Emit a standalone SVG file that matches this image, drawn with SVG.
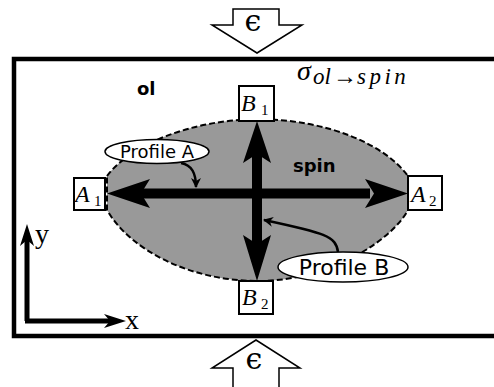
<svg xmlns="http://www.w3.org/2000/svg" width="494" height="387" viewBox="0 0 494 387">
<defs>
<style>
.blk{fill:#000;stroke:none}
.box{fill:#fff;stroke:#000;stroke-width:2}
.math{font-family:"Liberation Serif","DejaVu Serif",serif;font-style:italic;fill:#000}
.rm{font-family:"Liberation Serif","DejaVu Serif",serif;fill:#000}
.eps{font-family:"DejaVu Serif",serif;fill:#000}
.sans{font-family:"DejaVu Sans","Liberation Sans",sans-serif;fill:#000}
.bold{font-family:"DejaVu Sans","Liberation Sans",sans-serif;font-weight:bold;fill:#000}
.conn{fill:none;stroke:#000;stroke-width:2.5}
.block{fill:#fff;stroke:#000;stroke-width:1.5}
</style>
<marker id="sm" viewBox="0 0 10 10" refX="9" refY="5" markerWidth="4" markerHeight="4" orient="auto" markerUnits="strokeWidth">
<path d="M0,0 L10,5 L0,10 L3,5 Z" fill="#000"/>
</marker>
</defs>
<rect width="494" height="387" fill="#fff"/>

<g id="strain-top">
<polygon class="block" points="233,9 279,9 279,25 302,25 257,53 212,25 233,25"/>
<text class="eps" x="253" y="31" font-size="30" text-anchor="middle">ϵ</text>
</g>
<g id="strain-bottom">
<polygon class="block" points="233,392 279,392 279,368 300,368 256,340 212,368 233,368"/>
<text class="eps" x="254" y="369" font-size="30" text-anchor="middle">ϵ</text>
</g>

<g id="ol">
<rect x="14" y="59" width="500" height="277" fill="none" stroke="#000" stroke-width="4.5"/>
<text class="bold" x="137" y="95" font-size="18">ol</text>
<text class="math" x="297" y="80" font-size="28">σ<tspan x="313" y="84" font-size="23">ol</tspan><tspan x="333" y="84" font-style="normal" font-size="24">→</tspan><tspan x="357" y="84" font-size="23" letter-spacing="3.5">spin</tspan></text>
</g>

<g id="spin">
<path d="M 107 176 C 130 145, 190 120, 258 119 C 330 120, 385 145, 408 176 L 408 210 C 392 240, 330 281, 258 281 C 190 281, 130 250, 107 210 Z" fill="#999" stroke="#000" stroke-width="2" stroke-dasharray="6,3"/>
<text class="bold" x="293" y="172" font-size="18">spin</text>
</g>

<g id="connectors">
<rect class="blk" x="140" y="188.5" width="230" height="10"/>
<path class="blk" d="M107,193.5 L150,179 L141,193.5 L150,208 Z"/>
<path class="blk" d="M408,193.5 L365,179 L374,193.5 L365,208 Z"/>
<rect class="blk" x="252" y="150" width="10" height="100"/>
<path class="blk" d="M257,121 L243,163 L257,154 L271,163 Z"/>
<path class="blk" d="M257,281 L243,235 L257,244 L271,235 Z"/>
<path class="conn" d="M 181 163 C 192 165, 196 173, 196 187" marker-end="url(#sm)"/>
<path class="conn" d="M 338 252 C 336 236, 325 233, 264 220" marker-end="url(#sm)"/>
<path d="M27,321 L27,238 M25,321 L112,321" fill="none" stroke="#000" stroke-width="5"/>
<path class="blk" d="M27,224 L34,246 L27,240 L20,246 Z"/>
<path class="blk" d="M126,321 L104,328 L110,321 L104,314 Z"/>
</g>

<g id="axes-labels">
<text class="rm" x="35" y="243" font-size="28">y</text>
<text class="rm" x="125" y="329" font-size="28">x</text>
</g>

<g id="A1">
<rect class="box" x="74" y="178" width="31" height="32"/>
<text class="math" x="75" y="202" font-size="24">A</text>
<text class="rm" x="94" y="206" font-size="15">1</text>
</g>
<g id="A2">
<rect class="box" x="408" y="176" width="34" height="34"/>
<text class="math" x="411" y="202" font-size="24">A</text>
<text class="rm" x="429" y="206" font-size="15">2</text>
</g>
<g id="B1">
<rect class="box" x="239" y="86" width="35" height="35"/>
<text class="math" x="241" y="111" font-size="24">B</text>
<text class="rm" x="261" y="115" font-size="15">1</text>
</g>
<g id="B2">
<rect class="box" x="239" y="281" width="34" height="33"/>
<text class="math" x="242" y="305" font-size="24">B</text>
<text class="rm" x="261" y="309" font-size="15">2</text>
</g>

<g id="profileA">
<ellipse cx="157" cy="151.5" rx="52" ry="12" fill="#fff" stroke="#000" stroke-width="1.5"/>
<text class="sans" x="157" y="158" font-size="18" text-anchor="middle">Profile A</text>
</g>
<g id="profileB">
<ellipse cx="343" cy="267" rx="65" ry="15" fill="#fff" stroke="#000" stroke-width="1.5"/>
<text class="sans" x="344" y="275" font-size="22" text-anchor="middle">Profile B</text>
</g>
</svg>
